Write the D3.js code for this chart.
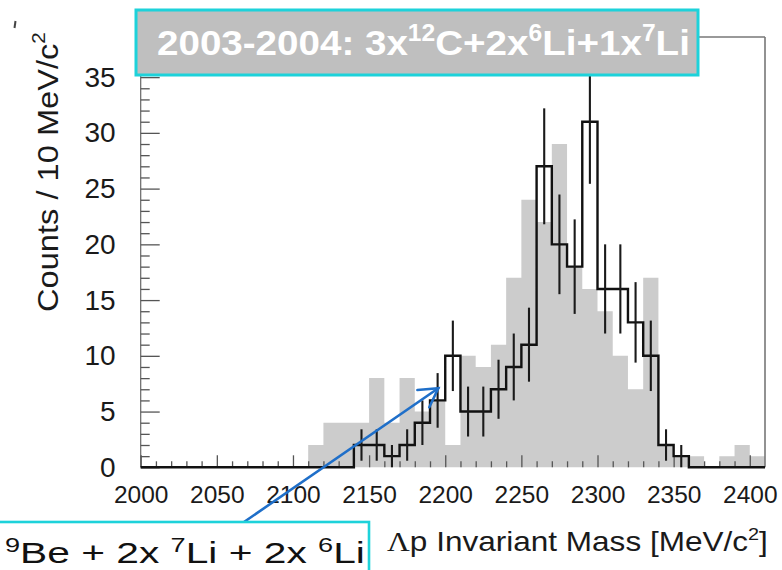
<!DOCTYPE html>
<html>
<head>
<meta charset="utf-8">
<script src="https://cdn.jsdelivr.net/npm/d3@7"></script>
<style>
  body { margin: 0; background: #fff; }
  svg { display: block; }
  text { font-family: "Liberation Sans", Arial, Helvetica, sans-serif; }
</style>
</head>
<body>
<svg id="chart" width="782" height="570"></svg>
<script>
// Lower edges of the 10 MeV/c^2 bins
const binLow = [2000, 2010, 2020, 2030, 2040, 2050, 2060, 2070, 2080, 2090,
                2100, 2110, 2120, 2130, 2140, 2150, 2160, 2170, 2180, 2190,
                2200, 2210, 2220, 2230, 2240, 2250, 2260, 2270, 2280, 2290,
                2300, 2310, 2320, 2330, 2340, 2350, 2360, 2370, 2380, 2390,
                2400];
const binWidth = 10;

// 2003-2004 sample (3x12C + 2x6Li + 1x7Li), filled grey
const countsRef = [0, 0, 0, 0, 0, 0, 0, 0, 0, 0,
                   0, 2, 4, 4, 4, 8, 4, 8, 5, 6,
                   2, 10, 9, 11, 17, 24, 22, 29, 18, 16,
                   14, 10, 7, 17, 2, 1, 1, 0, 1, 2,
                   1];

// 9Be + 2x7Li + 2x6Li sample, black line with error bars
const countsSel = [0, 0, 0, 0, 0, 0, 0, 0, 0, 0,
                   0, 0, 0, 0, 2, 2, 1, 2, 4, 6,
                   10, 5, 5, 7, 9, 11, 27, 20, 18, 31,
                   16, 16, 13, 10, 2, 1, 0, 0, 0, 0,
                   0];
const errSel = [0, 0, 0, 0, 0, 0, 0, 0, 0, 0,
                0, 0, 0, 0, 1.41, 1.41, 1, 1.41, 2, 2.45,
                3.16, 2.24, 2.24, 2.65, 3, 3.32, 5.2, 4.47, 4.24, 5.57,
                4, 4, 3.61, 3.16, 1.41, 1, 0, 0, 0, 0,
                0];

const xTickValues = [2000, 2050, 2100, 2150, 2200, 2250, 2300, 2350, 2400];
const yTickValues = [0, 5, 10, 15, 20, 25, 30, 35];

const svg = d3.select("#chart");
const CYAN = "#1dd2da";

const x = d3.scaleLinear().domain([2000, 2410]).range([140.7, 765]);
const y = d3.scaleLinear().domain([0, 38.6]).range([467.3, 37]);

// step outlines: one point per bin plus the closing upper edge
const lastEdge = binLow[binLow.length - 1] + binWidth;
const refPts = binLow.map((b, i) => [b, countsRef[i]]).concat([[lastEdge, countsRef[countsRef.length - 1]]]);
const selPts = binLow.map((b, i) => [b, countsSel[i]]).concat([[lastEdge, countsSel[countsSel.length - 1]]]);

svg.append("path")
  .datum(refPts)
  .attr("fill", "#cccccc")
  .attr("d", d3.area().x(d => x(d[0])).y0(y(0)).y1(d => y(d[1])).curve(d3.curveStepAfter));

// frame
const frame = svg.append("g").attr("fill", "none");
frame.append("line").attr("x1", x(2410)).attr("x2", x(2410)).attr("y1", y.range()[1]).attr("y2", y(0))
  .attr("stroke", "#777").attr("stroke-width", 1.6);
frame.append("line").attr("x1", x(2000)).attr("x2", x(2410)).attr("y1", y.range()[1]).attr("y2", y.range()[1])
  .attr("stroke", "#777").attr("stroke-width", 1.4);
frame.append("line").attr("x1", x(2000)).attr("x2", x(2000)).attr("y1", y.range()[1]).attr("y2", y(0))
  .attr("stroke", "#666").attr("stroke-width", 1.2);

// y axis: major ticks every 5, minor every 1
const yMinor = d3.range(0, 39, 1).filter(v => v % 5 !== 0);
const yAxisMinor = svg.append("g").attr("transform", `translate(${x(2000)},0)`)
  .call(d3.axisLeft(y).tickValues(yMinor).tickSize(-9).tickFormat(""));
const yAxis = svg.append("g").attr("transform", `translate(${x(2000)},0)`)
  .call(d3.axisLeft(y).tickValues(yTickValues).tickSize(-19).tickPadding(25).tickFormat(d3.format("d")));
[yAxis, yAxisMinor].forEach(g => {
  g.select(".domain").remove();
  g.selectAll(".tick line").attr("stroke", "#555").attr("stroke-width", 1.3);
});
yAxis.selectAll(".tick text").attr("font-size", 28).attr("fill", "#1a1a1a");

// x axis: major ticks every 50, minor every 10
const xMinor = binLow.filter(v => v % 50 !== 0);
const xAxisMinor = svg.append("g").attr("transform", `translate(0,${y(0)})`)
  .call(d3.axisBottom(x).tickValues(xMinor).tickSize(-6).tickFormat(""));
const xAxis = svg.append("g").attr("transform", `translate(0,${y(0)})`)
  .call(d3.axisBottom(x).tickValues(xTickValues).tickSize(-12).tickPadding(18).tickFormat(d3.format("d")));
[xAxis, xAxisMinor].forEach(g => {
  g.select(".domain").remove();
  g.selectAll(".tick line").attr("stroke", "#555").attr("stroke-width", 1.3);
});
xAxis.selectAll(".tick text").attr("font-size", 24.5).attr("fill", "#1a1a1a");

// selected sample: step histogram
svg.append("path")
  .datum(selPts)
  .attr("fill", "none")
  .attr("stroke", "#111")
  .attr("stroke-width", 2.4)
  .attr("d", d3.line().x(d => x(d[0])).y(d => y(d[1])).curve(d3.curveStepAfter));

// error bars
svg.append("g")
  .selectAll("line")
  .data(binLow.map((b, i) => ({ c: b + binWidth / 2, v: countsSel[i], e: errSel[i] })).filter(d => d.v > 0))
  .join("line")
  .attr("x1", d => x(d.c)).attr("x2", d => x(d.c))
  .attr("y1", d => y(Math.max(0, d.v - d.e))).attr("y2", d => y(d.v + d.e))
  .attr("stroke", "#1a1a1a").attr("stroke-width", 2.1);

// scales a text group horizontally to a given width
function fitWidth(g, width) {
  const w = g.node().getBBox().width;
  return w > 0 ? width / w : 1;
}

// axis titles
const yTitle = svg.append("text").attr("font-size", 30).attr("fill", "#1a1a1a");
yTitle.append("tspan").text("Counts / 10 MeV/c");
yTitle.append("tspan").attr("font-size", 19).attr("dy", -13).text("2");
{
  const k = fitWidth(yTitle, 280);
  yTitle.attr("transform", `translate(58,312) rotate(-90) scale(${k},1)`);
}

const xTitle = svg.append("text").attr("font-size", 27).attr("fill", "#1a1a1a");
xTitle.append("tspan").attr("font-family", "'Liberation Serif', 'Times New Roman', serif").text("Λ");
xTitle.append("tspan").text("p Invariant Mass [MeV/c");
xTitle.append("tspan").attr("font-size", 17).attr("dy", -11).text("2");
xTitle.append("tspan").attr("dy", 11).text("]");
{
  const k = fitWidth(xTitle, 381);
  xTitle.attr("transform", `translate(387,551) scale(${k},1)`);
}

// small mark at the top-left corner
svg.append("line").attr("x1", 15.5).attr("y1", 21).attr("x2", 14.5).attr("y2", 28)
  .attr("stroke", "#444").attr("stroke-width", 2);

// title box
svg.append("rect").attr("x", 136).attr("y", 10).attr("width", 562).attr("height", 65)
  .attr("fill", "#bfbfbf").attr("stroke", CYAN).attr("stroke-width", 3);
const title = svg.append("text").attr("font-size", 36).attr("font-weight", "bold").attr("fill", "#fff");
[["2003-2004: 3x", false], ["12", true], ["C+2x", false], ["6", true], ["Li+1x", false], ["7", true], ["Li", false]]
  .forEach(([t, sup], i, arr) => {
    const prevSup = i > 0 && arr[i - 1][1];
    title.append("tspan")
      .attr("font-size", sup ? 23 : 36)
      .attr("dy", sup ? -14 : (prevSup ? 14 : 0))
      .text(t);
  });
{
  const k = fitWidth(title, 533);
  title.attr("transform", `translate(157,55) scale(${k},1)`);
}

// annotation arrow
const tail = [244, 522], tip = [438.3, 388.3];
const ang = Math.atan2(tip[1] - tail[1], tip[0] - tail[0]);
const wing = 21, spread = Math.PI / 6;
const arrow = svg.append("g").attr("stroke", "#1f6fc9").attr("stroke-width", 2.6).attr("fill", "none")
  .attr("stroke-linecap", "round");
arrow.append("line").attr("x1", tail[0]).attr("y1", tail[1]).attr("x2", tip[0]).attr("y2", tip[1]);
arrow.append("path").attr("d", d3.line()([
  [tip[0] - wing * Math.cos(ang - spread), tip[1] - wing * Math.sin(ang - spread)],
  tip,
  [tip[0] - wing * Math.cos(ang + spread), tip[1] - wing * Math.sin(ang + spread)]
]));

// lower-left sample box
svg.append("rect").attr("x", -5).attr("y", 522).attr("width", 374).attr("height", 70)
  .attr("fill", "#fff").attr("stroke", CYAN).attr("stroke-width", 2.6);
const sample = svg.append("text").attr("font-size", 30).attr("fill", "#111");
[["9", true], ["Be + 2x ", false], ["7", true], ["Li + 2x ", false], ["6", true], ["Li", false]]
  .forEach(([t, sup], i, arr) => {
    const prevSup = i > 0 && arr[i - 1][1];
    sample.append("tspan")
      .attr("font-size", sup ? 20 : 30)
      .attr("dy", sup ? -11 : (prevSup ? 11 : 0))
      .text(t);
  });
{
  const k = fitWidth(sample, 360);
  sample.attr("transform", `translate(5,563) scale(${k},1)`);
}
</script>
</body>
</html>
